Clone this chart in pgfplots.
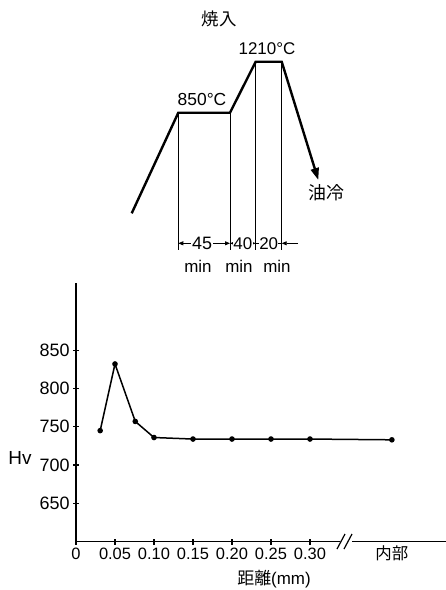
\documentclass[border=0pt]{standalone}
\usepackage{fontspec}
\setmainfont{Liberation Sans}
\newfontfamily\jp{Noto Sans CJK JP}
\usepackage{pgfplots}
\pgfplotsset{compat=1.18}
\usetikzlibrary{arrows.meta}

\begin{document}
\begin{tikzpicture}
\useasboundingbox (0,0) rectangle (446bp,590bp);
% ---------- hardness plot ----------
\begin{axis}[at={(76bp,48.3bp)}, anchor=south west, scale only axis,
  width=370bp, height=258.7bp,
  xmin=0, xmax=0.4744, ymin=600, ymax=937.7,
  axis x line=bottom, axis y line=left,
  axis line style={-, line width=1.5bp},
  xtick={0,0.05,0.10,0.15,0.20,0.25,0.30},
  xticklabels={0,0.05,0.10,0.15,0.20,0.25,0.30},
  ytick={650,700,750,800,850},
  yticklabels={650,700,750,800,850},
  extra x ticks={0.405},
  extra x tick labels={{\jp 内部}},
  extra x tick style={major tick length=0pt},
  tick align=center, major tick length=6bp,
  tick style={line width=1.2bp, black},
  xticklabel style={font=\fontsize{16.5}{18}\selectfont},
  yticklabel style={font=\fontsize{18}{20}\selectfont},
  clip=false]
\addplot[black, line width=1.5bp, mark=*, mark size=2bp] coordinates {
 (0.031,745) (0.05,832) (0.076,757) (0.10,736) (0.15,734) (0.20,734)
 (0.25,734) (0.30,734) (0.405,733)};
\end{axis}
% ---------- heat treatment diagram (pixel coordinates) ----------
\begin{axis}[at={(0,0)}, anchor=south west, scale only axis,
  width=446bp, height=590bp, xmin=0, xmax=446, ymin=0, ymax=590,
  y dir=reverse, axis lines=none, clip=false]
\addplot[black, line width=2.4bp, -{Triangle[length=12bp,width=8bp]}] coordinates {
 (131.7,213.3) (178.3,112.7) (230,112.7) (255.7,61.7) (281.7,61.7) (318.3,180)};
\addplot[black, line width=0.7bp] coordinates {(178.3,112.7) (178.3,250)};
\addplot[black, line width=0.7bp] coordinates {(230,112.7) (230,250)};
\addplot[black, line width=0.7bp] coordinates {(255.7,61.7) (255.7,250)};
\addplot[black, line width=0.7bp] coordinates {(281.7,61.7) (281.7,250)};
\addplot[black, line width=0.8bp, {Triangle[length=5bp,width=4bp]}-{Triangle[length=5bp,width=4bp]}] coordinates {(178.3,243.3) (230,243.3)};
\addplot[black, line width=0.8bp, {Triangle[length=4bp,width=3bp]}-{Triangle[length=4bp,width=3bp]}] coordinates {(230,243.3) (255.7,243.3)};
\addplot[black, line width=0.8bp] coordinates {(255.7,243.3) (281.7,243.3)};
\addplot[black, line width=0.8bp, -{Triangle[length=5bp,width=4bp]}] coordinates {(298,243.3) (281.7,243.3)};
\node[fill=white, inner sep=1pt, font=\fontsize{18}{20}\selectfont] at (axis cs:202,243.3) {45};
\node[fill=white, inner sep=0.3pt, font=\fontsize{17}{19}\selectfont] at (axis cs:242.8,243.3) {40};
\node[fill=white, inner sep=0.3pt, font=\fontsize{17}{19}\selectfont] at (axis cs:268.7,243.3) {20};
\node[font=\fontsize{17}{19}\selectfont] at (axis cs:198,266) {min};
\node[font=\fontsize{17}{19}\selectfont] at (axis cs:239,266) {min};
\node[font=\fontsize{17}{19}\selectfont] at (axis cs:277,266) {min};
\node[font=\fontsize{17.5}{19}\selectfont] at (axis cs:202,99.3) {850°C};
\node[font=\fontsize{17}{19}\selectfont] at (axis cs:267,49) {1210°C};
\node[font=\jp\fontsize{17.5}{19}\selectfont] at (axis cs:219,19) {焼入};
\node[font=\jp\fontsize{18}{20}\selectfont] at (axis cs:326,193) {油冷};
% axis labels
\node[font=\fontsize{19}{21}\selectfont] at (axis cs:20,458.3) {Hv};
\node[font=\fontsize{17}{19}\selectfont] at (axis cs:274,579) {{\jp 距離}(mm)};
% axis break
\addplot[white, line width=4bp] coordinates {(340,541.7) (352,541.7)};
\addplot[black, line width=1.2bp] coordinates {(337,549) (345,534)};
\addplot[black, line width=1.2bp] coordinates {(344,549) (352,534)};
\end{axis}
\end{tikzpicture}
\end{document}
